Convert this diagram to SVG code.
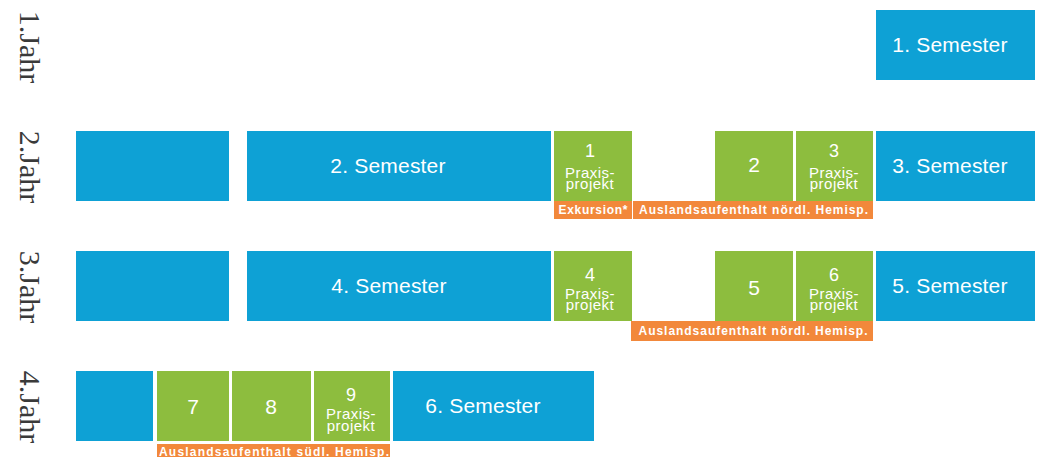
<svg xmlns="http://www.w3.org/2000/svg" width="1039" height="457" viewBox="0 0 1039 457">
<style>
.b{fill:#0ea1d5}
.g{fill:#8dbd3e}
.o{fill:#f2883b}
.yr{font-family:"Liberation Serif",serif;font-size:30px;fill:#3a3a3a;text-anchor:middle}
.sem{font-family:"Liberation Sans",Arial,sans-serif;font-size:21px;fill:#ffffff;text-anchor:middle;letter-spacing:0.2px}
.num{font-family:"Liberation Sans",Arial,sans-serif;font-size:18px;fill:#ffffff;text-anchor:middle}
.big{font-family:"Liberation Sans",Arial,sans-serif;font-size:21px;fill:#ffffff;text-anchor:middle}
.px{font-family:"Liberation Sans",Arial,sans-serif;font-size:15px;fill:#ffffff;text-anchor:middle;letter-spacing:0.5px}
.ol{font-family:"Liberation Sans",Arial,sans-serif;font-size:12px;font-weight:bold;fill:#ffffff;text-anchor:middle}
</style>
<rect width="1039" height="457" fill="#ffffff"/>
<g id="year-labels">
<text class="yr" transform="translate(20,47) rotate(90)">1.Jahr</text>
<text class="yr" transform="translate(20,167) rotate(90)">2.Jahr</text>
<text class="yr" transform="translate(20,287) rotate(90)">3.Jahr</text>
<text class="yr" transform="translate(20,407) rotate(90)">4.Jahr</text>
</g>
<g id="connectors"></g>
<g id="sem1"><rect class="b" x="876" y="10" width="159" height="70"/><text class="sem" x="950" y="52">1. Semester</text></g>
<g id="r2-blank"><rect class="b" x="76" y="131" width="153" height="70"/></g>
<g id="sem2"><rect class="b" x="247" y="131" width="304" height="70"/><text class="sem" x="388" y="173">2. Semester</text></g>
<g id="p1"><rect class="g" x="554" y="131" width="78" height="70"/><text class="num" x="590" y="157">1</text><text class="px" x="590" y="177.5">Praxis-<tspan x="590" dy="11">projekt</tspan></text></g>
<g id="p2"><rect class="g" x="715" y="131" width="78" height="70"/><text class="big" x="754" y="171.5">2</text></g>
<g id="p3"><rect class="g" x="796" y="131" width="77" height="70"/><text class="num" x="834" y="157">3</text><text class="px" x="834" y="177.5">Praxis-<tspan x="834" dy="11">projekt</tspan></text></g>
<g id="sem3"><rect class="b" x="876" y="131" width="159" height="70"/><text class="sem" x="950" y="173">3. Semester</text></g>
<g id="exk"><rect class="o" x="554" y="201" width="78" height="18"/><text class="ol" x="593" y="214" textLength="69" lengthAdjust="spacing">Exkursion*</text></g>
<g id="ausl1"><rect class="o" x="633" y="201" width="240" height="18"/><text class="ol" x="753.5" y="214" textLength="229" lengthAdjust="spacing">Auslandsaufenthalt nördl. Hemisp.</text></g>
<g id="r3-blank"><rect class="b" x="76" y="251" width="153" height="70"/></g>
<g id="sem4"><rect class="b" x="247" y="251" width="304" height="70"/><text class="sem" x="389" y="293">4. Semester</text></g>
<g id="p4"><rect class="g" x="554" y="251" width="78" height="70"/><text class="num" x="590" y="281">4</text><text class="px" x="590" y="298.5">Praxis-<tspan x="590" dy="11.5">projekt</tspan></text></g>
<g id="p5"><rect class="g" x="715" y="251" width="78" height="70"/><text class="big" x="754" y="295">5</text></g>
<g id="p6"><rect class="g" x="796" y="251" width="77" height="70"/><text class="num" x="834" y="281">6</text><text class="px" x="834" y="298.5">Praxis-<tspan x="834" dy="11.5">projekt</tspan></text></g>
<g id="sem5"><rect class="b" x="876" y="251" width="159" height="70"/><text class="sem" x="950" y="293">5. Semester</text></g>
<g id="ausl2"><rect class="o" x="631" y="321" width="242" height="20"/><text class="ol" x="753" y="334.5" textLength="229" lengthAdjust="spacing">Auslandsaufenthalt nördl. Hemisp.</text></g>
<g id="r4-blank"><rect class="b" x="76" y="371" width="77" height="70"/></g>
<g id="p7"><rect class="g" x="157" y="371" width="72" height="70"/><text class="big" x="193" y="414">7</text></g>
<g id="p8"><rect class="g" x="232" y="371" width="79" height="70"/><text class="big" x="271" y="414">8</text></g>
<g id="p9"><rect class="g" x="314" y="371" width="76" height="70"/><text class="num" x="351" y="400.5">9</text><text class="px" x="351" y="418.5">Praxis-<tspan x="351" dy="12">projekt</tspan></text></g>
<g id="sem6"><rect class="b" x="393" y="371" width="201" height="70"/><text class="sem" x="483" y="413">6. Semester</text></g>
<g id="ausl3"><rect class="o" x="157" y="444" width="233" height="13"/><text class="ol" x="274" y="455.5" textLength="230" lengthAdjust="spacing">Auslandsaufenthalt südl. Hemisp.</text></g>
</svg>
